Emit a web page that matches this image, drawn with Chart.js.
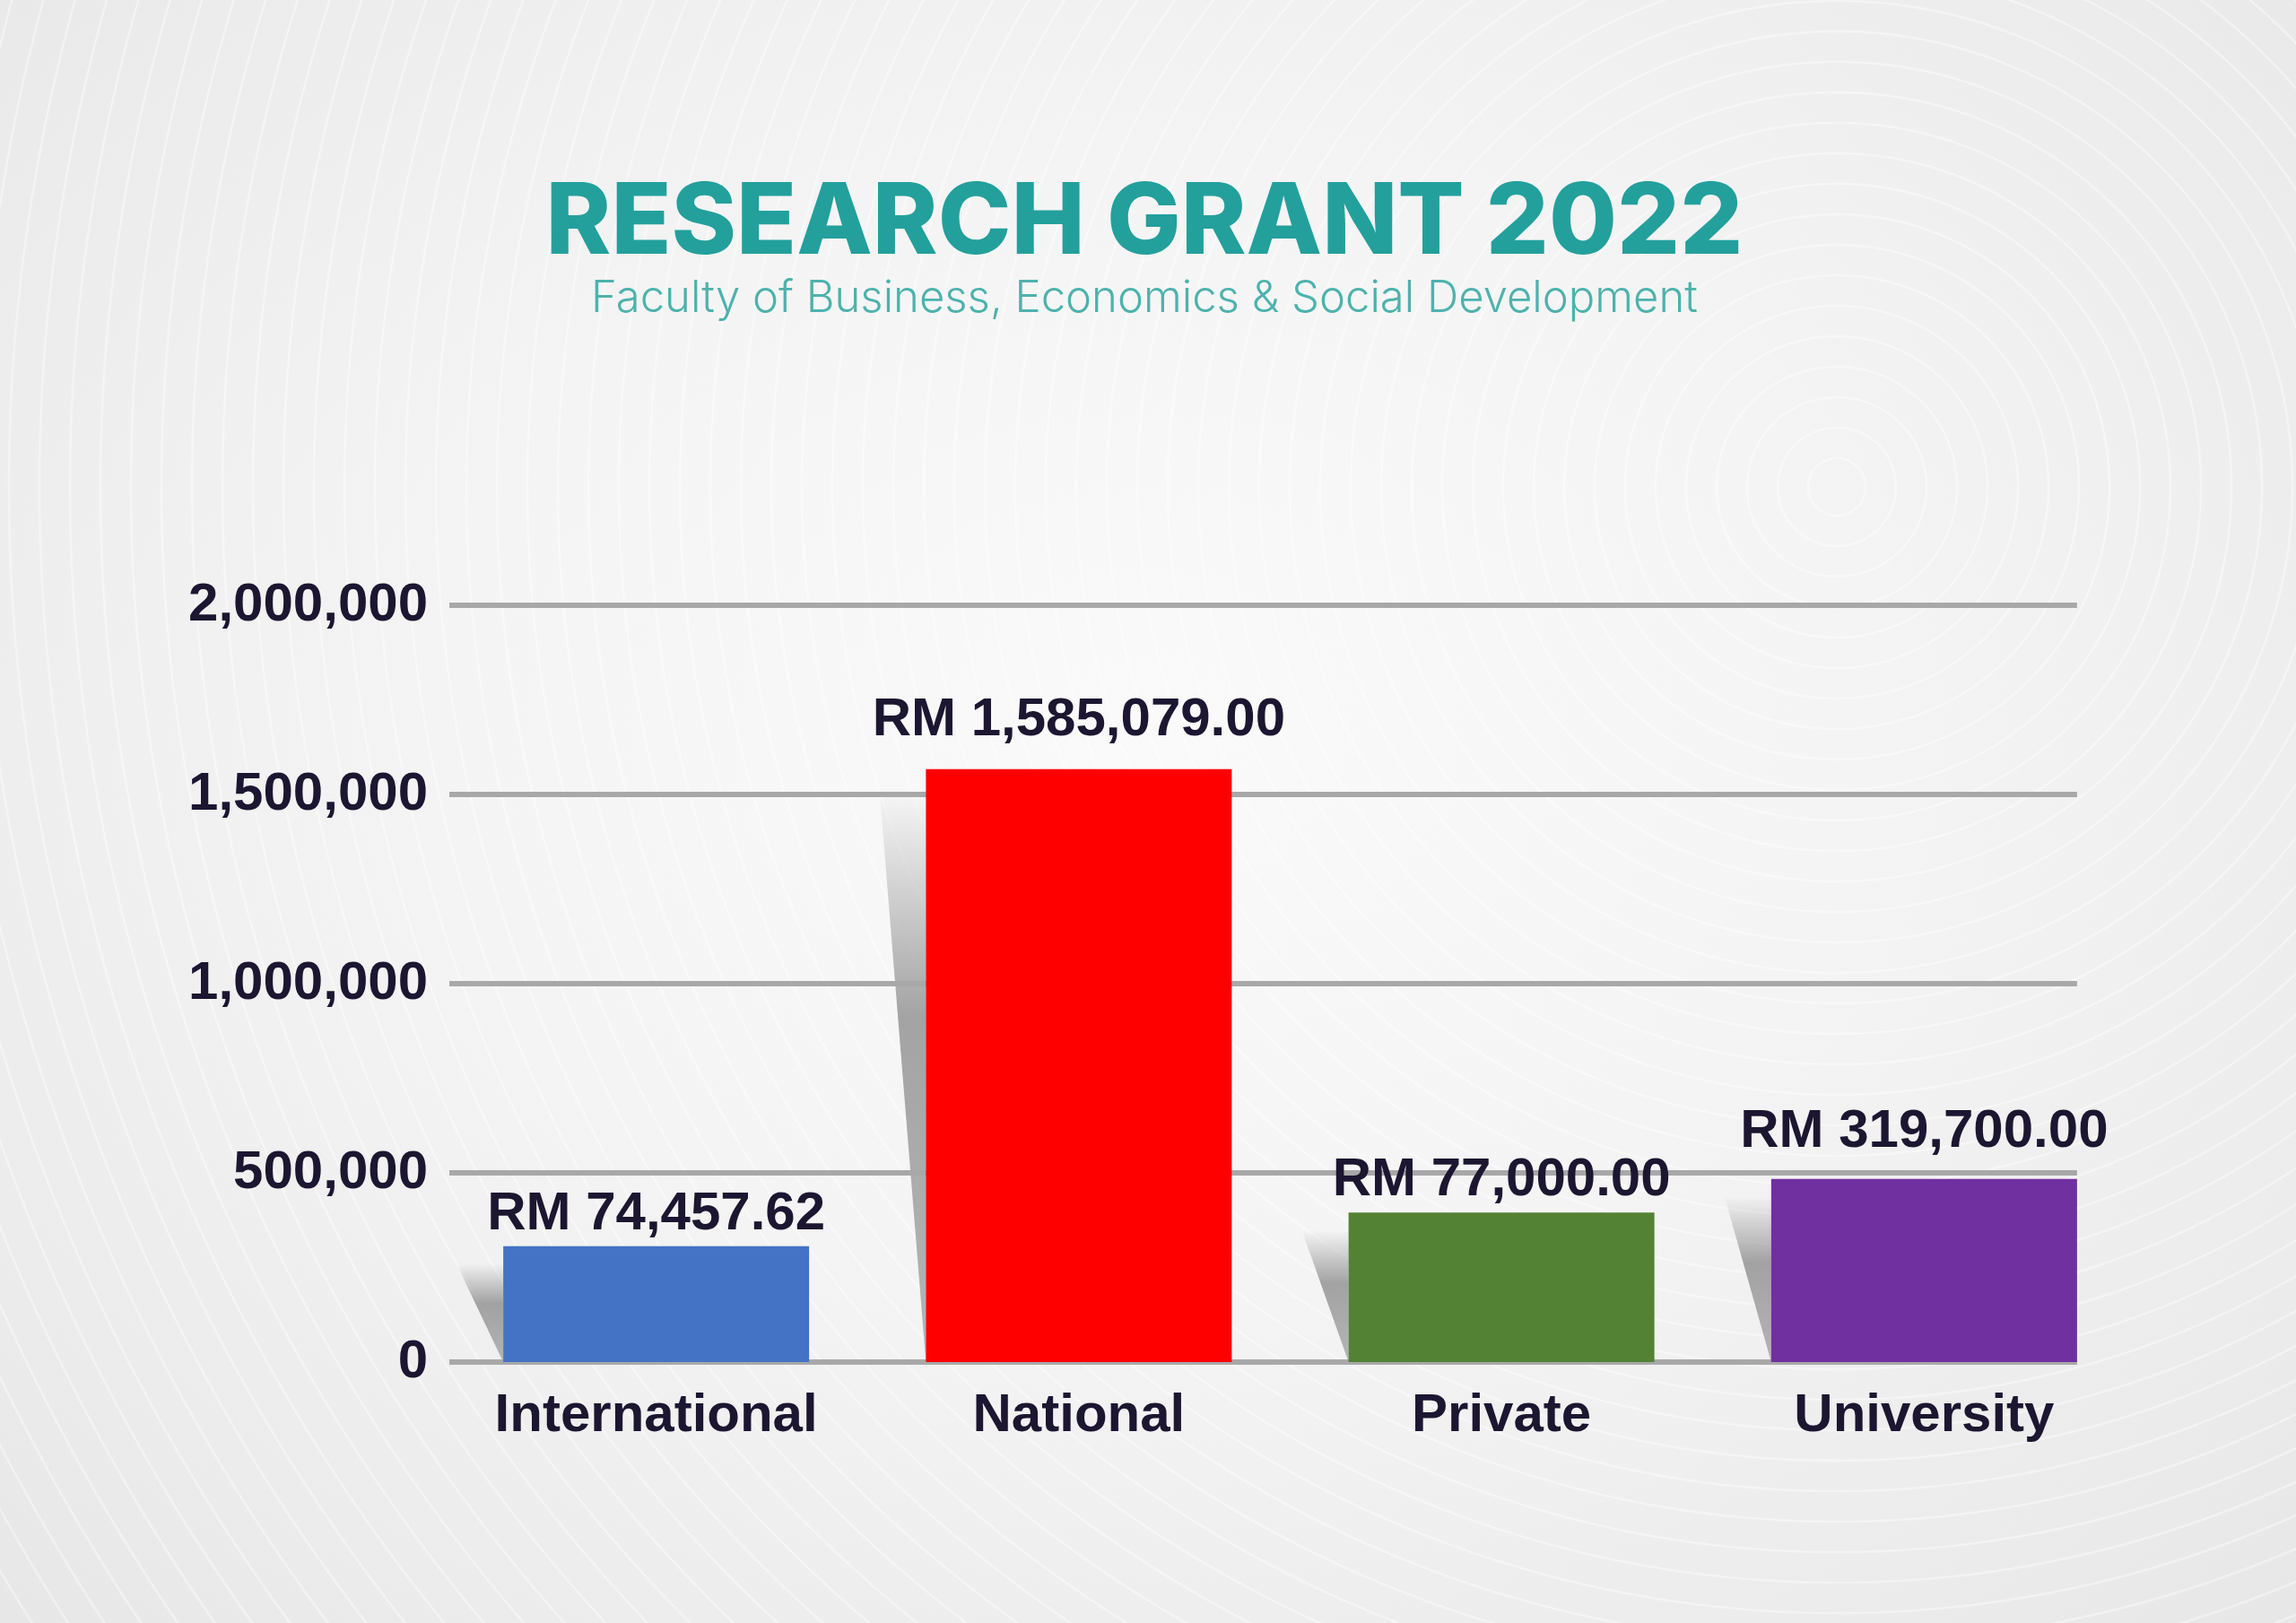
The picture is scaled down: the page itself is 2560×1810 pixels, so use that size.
<!DOCTYPE html>
<html>
<head>
<meta charset="utf-8">
<title>Research Grant 2022</title>
<script src="https://cdn.jsdelivr.net/npm/chart.js@4.4.0/dist/chart.umd.min.js"></script>
<style>
  html, body {
    margin: 0;
    padding: 0;
    width: 2560px;
    height: 1810px;
    overflow: hidden;
  }
  body {
    background:
      repeating-radial-gradient(circle at 80% 30%, rgba(255,255,255,0) 0px, rgba(255,255,255,0) 30px, rgba(255,255,255,0.5) 32px, rgba(255,255,255,0) 34px),
      radial-gradient(ellipse at 50% 45%, #fafafa 0%, #f4f4f4 45%, #e7e7e7 100%);
  }
  #wrap {
    position: absolute;
    left: 0;
    top: 0;
    width: 2560px;
    height: 1810px;
  }
</style>
</head>
<body>
<div id="wrap">
  <canvas id="chart" width="2560" height="1810"></canvas>
</div>
<script>
// values
const categories = ['International', 'National', 'Private', 'University'];
const barValues = [306000, 1567000, 395000, 484000];
const valueLabels = ['RM 74,457.62', 'RM 1,585,079.00', 'RM 77,000.00', 'RM 319,700.00'];
const yTicks = [0, 500000, 1000000, 1500000, 2000000];

const barColors = ['#4472c4', '#ff0000', '#548235', '#7030a0'];
const labelGaps = [19, 38, 19, 36];
const textColor = '#1c1631';

Chart.defaults.font.family = "'Liberation Sans', Arial, sans-serif";

// grey slanted shadow on the left of each bar
const barShadows = {
  id: 'barShadows',
  beforeDatasetsDraw(chart) {
    const ctx = chart.ctx;
    const meta = chart.getDatasetMeta(0);
    meta.data.forEach((bar) => {
      const left = bar.x - bar.width / 2;
      const top = bar.y + 20;
      const base = bar.base;
      const g = ctx.createLinearGradient(0, top, 0, base);
      g.addColorStop(0, 'rgba(135,135,135,0)');
      g.addColorStop(0.4, 'rgba(135,135,135,0.75)');
      g.addColorStop(1, 'rgba(160,160,160,0.75)');
      ctx.save();
      ctx.fillStyle = g;
      ctx.beginPath();
      ctx.moveTo(left, base);
      ctx.lineTo(left - 52, top);
      ctx.lineTo(left, top);
      ctx.closePath();
      ctx.fill();
      ctx.restore();
    });
  }
};

// horizontal grid lines that stop at the last bar
const gridLines = {
  id: 'gridLines',
  beforeDatasetsDraw(chart) {
    const ctx = chart.ctx;
    const y = chart.scales.y;
    const meta = chart.getDatasetMeta(0);
    const last = meta.data[meta.data.length - 1];
    const right = last.x + last.width / 2;
    ctx.save();
    ctx.strokeStyle = '#a8a8a8';
    ctx.lineWidth = 6;
    yTicks.forEach((t) => {
      const py = y.getPixelForValue(t);
      ctx.beginPath();
      ctx.moveTo(chart.chartArea.left + 5, py);
      ctx.lineTo(right, py);
      ctx.stroke();
    });
    ctx.restore();
  }
};

const valueText = {
  id: 'valueText',
  afterDatasetsDraw(chart) {
    const ctx = chart.ctx;
    const meta = chart.getDatasetMeta(0);
    ctx.save();
    ctx.font = "bold 60px 'Liberation Sans', Arial, sans-serif";
    ctx.fillStyle = textColor;
    ctx.textAlign = 'center';
    ctx.textBaseline = 'alphabetic';
    meta.data.forEach((bar, i) => {
      ctx.fillText(valueLabels[i], bar.x, bar.y - labelGaps[i]);
    });
    ctx.restore();
  }
};

new Chart(document.getElementById('chart'), {
  type: 'bar',
  data: {
    labels: categories,
    datasets: [{
      data: barValues,
      backgroundColor: barColors,
      borderWidth: 0,
      categoryPercentage: 1,
      barPercentage: 0.7236
    }]
  },
  options: {
    responsive: false,
    devicePixelRatio: 1,
    animation: false,
    layout: {
      padding: { top: 0, left: 171, right: 179, bottom: 179 }
    },
    plugins: {
      legend: { display: false },
      tooltip: { enabled: false },
      title: {
        display: true,
        text: 'RESEARCH GRANT 2022',
        color: '#23a09c',
        font: { family: "Inter, 'Open Sans', sans-serif", size: 110, weight: '800', lineHeight: 1 },
        padding: { top: 195, bottom: 0 }
      },
      subtitle: {
        display: true,
        text: 'Faculty of Business, Economics & Social Development',
        color: '#4db2ad',
        font: { family: "Inter, 'Open Sans', sans-serif", size: 49, weight: '300', lineHeight: 1 },
        padding: { top: 4, bottom: 317 }
      }
    },
    scales: {
      x: {
        grid: { display: false },
        border: { display: false },
        ticks: {
          color: textColor,
          padding: 16,
          font: { size: 60, weight: 'bold' }
        }
      },
      y: {
        min: 0,
        max: 2000000,
        grid: { display: false },
        border: { display: false },
        afterFit(scale) { scale.width = 325; },
        afterBuildTicks(scale) { scale.ticks = yTicks.map((v) => ({ value: v })); },
        ticks: {
          color: textColor,
          padding: 11,
          font: { size: 60, weight: 'bold' },
          callback: (v) => Number(v).toLocaleString('en-US')
        }
      }
    }
  },
  plugins: [barShadows, gridLines, valueText]
});
</script>
</body>
</html>
